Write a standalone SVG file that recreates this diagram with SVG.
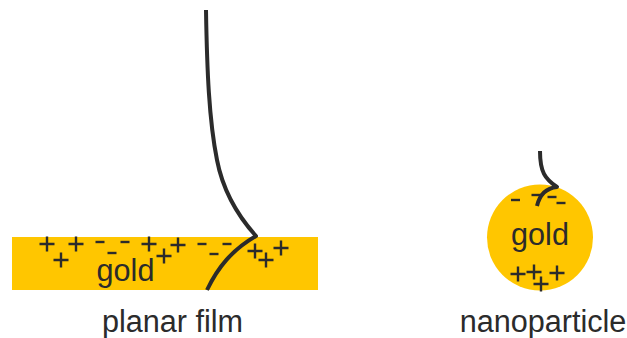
<svg xmlns="http://www.w3.org/2000/svg" width="627" height="338" viewBox="0 0 627 338">
  <style>
    .gold { fill: #ffc600; }
    .wire { fill: none; stroke: #2b2b2b; stroke-width: 4; stroke-linecap: butt; stroke-linejoin: round; }
    text { font-family: "Liberation Sans", Arial, sans-serif; fill: #2b2b2b; }
    .title { font-size: 30.600px; }
    .metal { font-size: 30.600px; }
    .charge { stroke: #2b2b2b; stroke-width: 2.400; fill: none; }
  </style>
  <defs>
    <path id="plus" class="charge" d="M-7.500 0H7.500M0 -7.500V7.500"/>
    <path id="minus" class="charge" d="M-4.500 0H4.500"/>
  </defs>

  <g id="film">
    <rect class="gold" x="12" y="237" width="306" height="53"/>
    <text class="metal" x="125.500" y="281" text-anchor="middle">gold</text>
    <use href="#plus" x="47" y="244"/>
    <use href="#plus" x="61" y="260"/>
    <use href="#plus" x="76" y="244"/>
    <use href="#minus" x="100" y="242"/>
    <use href="#minus" x="112" y="253"/>
    <use href="#minus" x="125" y="242"/>
    <use href="#plus" x="149" y="244"/>
    <use href="#plus" x="164" y="256"/>
    <use href="#plus" x="178" y="245"/>
    <use href="#minus" x="202" y="244"/>
    <use href="#minus" x="214" y="254"/>
    <use href="#minus" x="227" y="244"/>
    <use href="#plus" x="255" y="251"/>
    <use href="#plus" x="266" y="260"/>
    <use href="#plus" x="281" y="248"/>
  </g>

  <g id="particle">
    <circle class="gold" cx="540" cy="237.500" r="53"/>
    <text class="metal" x="540" y="245" text-anchor="middle">gold</text>
    <use href="#minus" x="515.500" y="200"/>
    <use href="#minus" x="536" y="195"/>
    <use href="#minus" x="552" y="197"/>
    <use href="#minus" x="561" y="203"/>
    <use href="#plus" x="518" y="274"/>
    <use href="#plus" x="534" y="272"/>
    <use href="#plus" x="541" y="284"/>
    <use href="#plus" x="557" y="273"/>
  </g>

  <g id="labels">
    <text class="title" x="172.500" y="332" text-anchor="middle">planar film</text>
    <text class="title" x="543" y="332" text-anchor="middle">nanoparticle</text>
  </g>

  <g id="connectors">
    <path id="film-tip" class="wire" d="M206 10C207 70 209 120 217 160C223 191 238 216 256 236C232 250 218 267 207 290"/>
    <path id="particle-tip" class="wire" d="M540 151C540 172 545 179 557 187C547 188 540 193 537 206"/>
  </g>
</svg>
